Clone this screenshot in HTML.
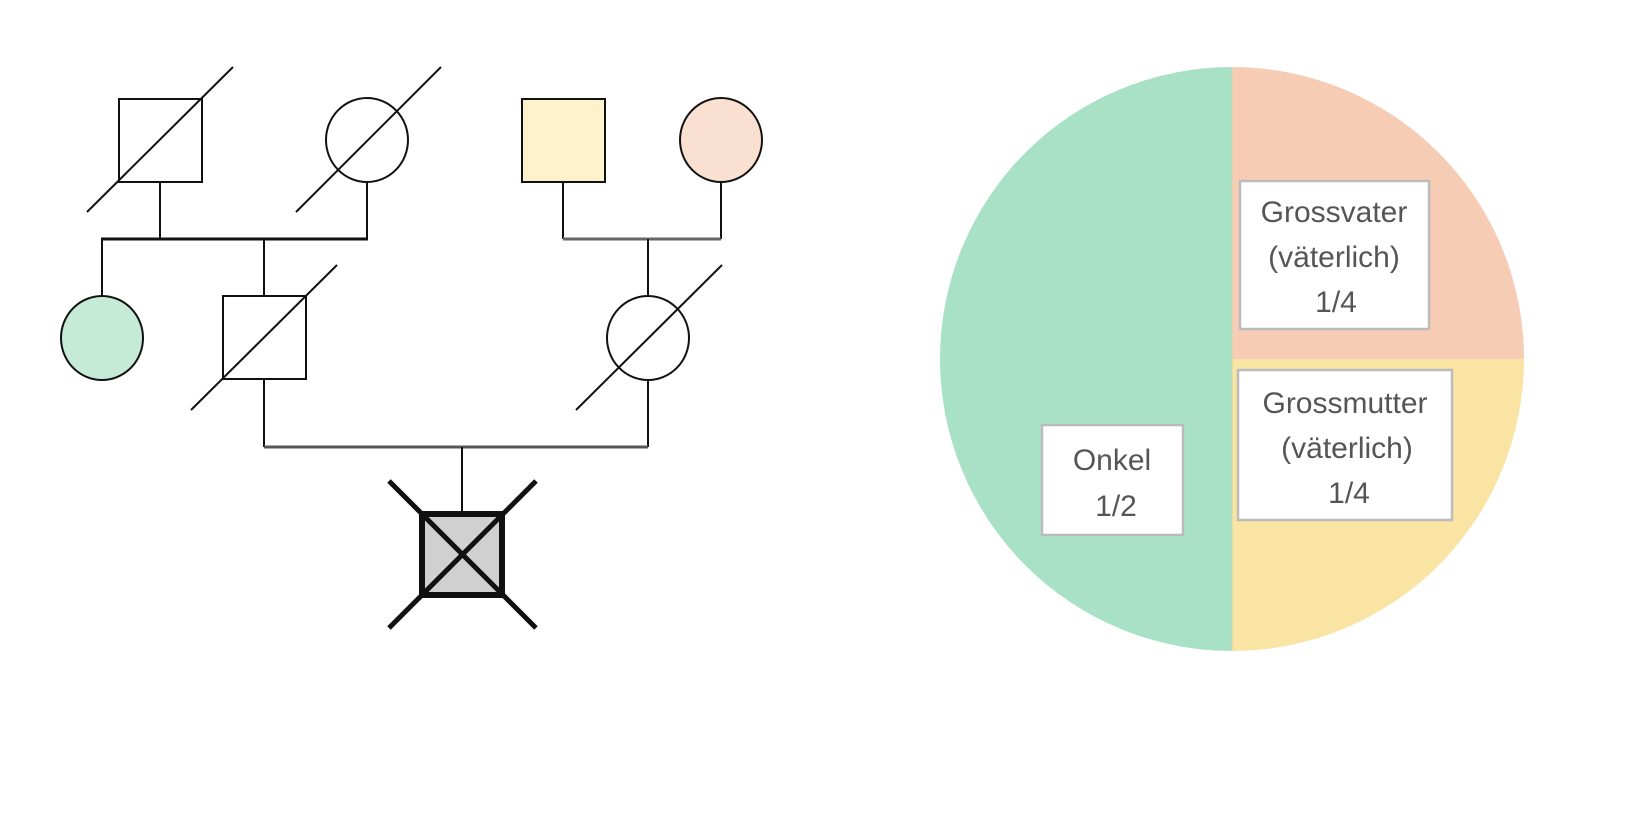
<!DOCTYPE html>
<html><head><meta charset="utf-8"><style>
html,body{margin:0;padding:0;background:#fff;}
svg{display:block;}
text{font-family:"Liberation Sans","DejaVu Sans",sans-serif;font-size:30px;fill:#555;}
</style></head><body>
<svg width="1648" height="816" viewBox="0 0 1648 816" xmlns="http://www.w3.org/2000/svg">
<g stroke="#111" stroke-width="2" fill="none">
  <rect x="119" y="99" width="83" height="83" fill="#fff"/>
  <line x1="87" y1="212" x2="233" y2="67"/>
  <ellipse cx="367" cy="140" rx="41" ry="42" fill="#fff"/>
  <line x1="296" y1="212" x2="441" y2="67"/>
  <rect x="522" y="99" width="83" height="83" fill="#fef2cc"/>
  <ellipse cx="721" cy="140" rx="41" ry="42" fill="#fae0d0"/>
  <line x1="160" y1="182" x2="160" y2="239"/>
  <line x1="367" y1="182" x2="367" y2="239"/>
  <line x1="101" y1="239" x2="368" y2="239" stroke-width="3"/>
  <line x1="102" y1="239" x2="102" y2="296"/>
  <line x1="264" y1="239" x2="264" y2="296"/>
  <ellipse cx="102" cy="338" rx="41" ry="42" fill="#c5ead8"/>
  <rect x="223" y="296" width="83" height="83" fill="#fff"/>
  <line x1="191" y1="410" x2="337" y2="265"/>
  <line x1="563" y1="182" x2="563" y2="239"/>
  <line x1="721" y1="182" x2="721" y2="239"/>
  <line x1="563" y1="239" x2="721" y2="239" stroke="#666" stroke-width="3"/>
  <line x1="648" y1="239" x2="648" y2="296"/>
  <ellipse cx="648" cy="338" rx="41" ry="42" fill="#fff"/>
  <line x1="576" y1="410" x2="722" y2="265"/>
  <line x1="264" y1="379" x2="264" y2="447"/>
  <line x1="648" y1="379" x2="648" y2="447"/>
  <line x1="264" y1="447" x2="648" y2="447" stroke="#555" stroke-width="3"/>
  <line x1="462" y1="447" x2="462" y2="512"/>
  <rect x="422" y="514" width="80" height="81" fill="#d0d0d0" stroke-width="6"/>
  <line x1="389" y1="481" x2="536" y2="628" stroke-width="5"/>
  <line x1="536" y1="481" x2="389" y2="628" stroke-width="5"/>
</g>
<path d="M1232 359 L1232 67 A292 292 0 0 0 1232 651 Z" fill="#a8e1c5"/>
<path d="M1232 359 L1232 67 A292 292 0 0 1 1524 359 Z" fill="#f6cdb4"/>
<path d="M1232 359 L1524 359 A292 292 0 0 1 1232 651 Z" fill="#f9e4a4"/>
<line x1="1232" y1="67" x2="1232" y2="651" stroke="#c8d8a8" stroke-width="1"/>
<g fill="#fff" stroke="#bbb" stroke-width="2.5">
  <rect x="1240" y="181" width="189" height="148"/>
  <rect x="1238" y="370" width="214" height="150"/>
  <rect x="1042" y="425" width="141" height="110"/>
</g>
<g text-anchor="middle">
  <text x="1334" y="222">Grossvater</text>
  <text x="1334" y="267">(väterlich)</text>
  <text x="1336" y="312">1/4</text>
  <text x="1345" y="413">Grossmutter</text>
  <text x="1347" y="458">(väterlich)</text>
  <text x="1349" y="503">1/4</text>
  <text x="1112" y="470">Onkel</text>
  <text x="1116" y="516">1/2</text>
</g>
</svg>
</body></html>
